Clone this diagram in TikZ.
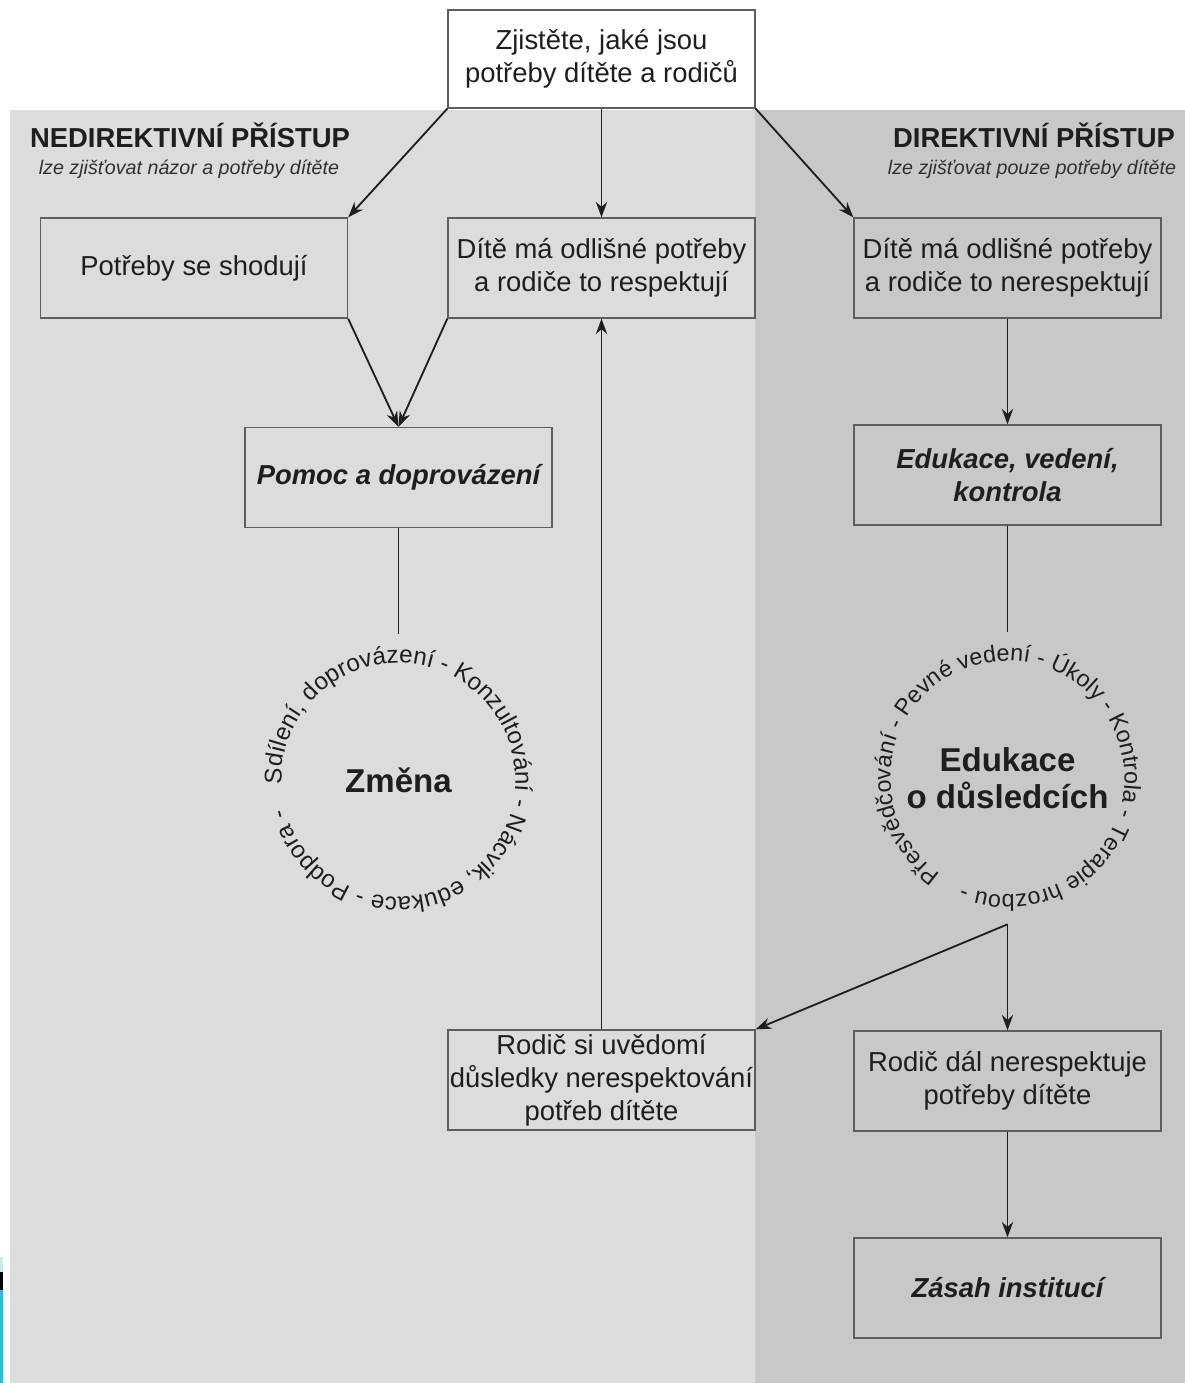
\documentclass[tikz,border=0pt]{standalone}
\usepackage{fontspec}
\setmainfont{Liberation Sans}
\usetikzlibrary{arrows.meta,decorations.text}
\definecolor{panelA}{HTML}{DCDCDC}
\definecolor{panelB}{HTML}{C8C8C8}
\definecolor{rim}{HTML}{5E5E5E}
\definecolor{ink}{HTML}{1E1E1E}
\definecolor{strip}{HTML}{3CB4DC}
\definecolor{stripl}{HTML}{CDE6F0}

\begin{document}
\begin{tikzpicture}[x=0.025cm, y=0.025cm,
    box/.style={rectangle, draw=rim, line width=0.9pt, minimum width=7.675cm, minimum height=2.5cm, inner sep=0pt, align=center, text=ink, font=\fontsize{19.5}{23.5}\selectfont},
    title/.style={anchor=base, inner sep=0pt, text=ink, font=\fontsize{19.5}{23.5}\selectfont\bfseries},
    sub/.style={anchor=base, inner sep=0pt, text=ink!92, font=\fontsize{14}{16}\selectfont\itshape},
    ring/.style={circle, minimum size=7.3cm, inner sep=0pt, align=center, text=ink, font=\fontsize{23.5}{26}\selectfont\bfseries},
    arr/.style={draw=ink, line width=1.3pt, -{Stealth[length=11pt, width=8pt]}},
    link/.style={draw=ink, line width=1.3pt}]
            \useasboundingbox (0,0) rectangle (1185,-1383);
            % panels
            \fill[panelA] (10,-110) rectangle (755,-1383);
            \fill[panelB] (755,-110) rectangle (1185,-1383);
            \fill[stripl] (0,-1257) rectangle (3,-1272);
            \fill[black] (0,-1272) rectangle (3,-1290);
            \fill[strip] (0,-1290) rectangle (3,-1383);

            \node[title] (nedir) at (190,-147) {NEDIREKTIVNÍ PŘÍSTUP};
            \node[sub] (nedirsub) at (189,-174) {lze zjišťovat názor a potřeby dítěte};
            \node[title] (dir) at (1034,-147) {DIREKTIVNÍ PŘÍSTUP};
            \node[sub] (dirsub) at (1032,-174) {lze zjišťovat pouze potřeby dítěte};

            \node[box, fill=white, minimum height=2.45cm] (zjistit) at (601.5,-59) {Zjistěte, jaké jsou\\potřeby dítěte a rodičů};
            \node[box] (shoda) at (194,-268) {Potřeby se shodují};
            \node[box] (respekt) at (601.5,-268) {Dítě má odlišné potřeby\\a rodiče to respektují};
            \node[box] (nerespekt) at (1007.5,-268) {Dítě má odlišné potřeby\\a rodiče to nerespektují};
            \node[box, font=\fontsize{19.5}{23.5}\selectfont\bfseries\itshape] (pomoc) at (398.5,-477.5) {Pomoc a doprovázení};
            \node[box, font=\fontsize{19.5}{23.5}\selectfont\bfseries\itshape] (vedeni) at (1007.5,-475) {Edukace, vedení,\\kontrola};
            \node[ring] (zmena) at (398.5,-780) {Změna};
            \node[ring] (dusledky) at (1007.5,-778) {Edukace\\o důsledcích};
            \node[box] (uvedomi) at (601.5,-1080) {Rodič si uvědomí\\důsledky nerespektování\\potřeb dítěte};
            \node[box] (dal) at (1007.5,-1081) {Rodič dál nerespektuje\\potřeby dítěte};
            \node[box, font=\fontsize{19.5}{23.5}\selectfont\bfseries\itshape] (zasah) at (1007.5,-1288) {Zásah institucí};

            % texts round the circles
            \path[decorate, decoration={text along path,
                text={|\fontsize{17.2}{17.2}\selectfont\color{ink}|Sdílení, doprovázení - Konzultování - Nácvik, edukace - Podpora -}}]
                (zmena.center) ++(182:117) arc[start angle=182, end angle=-178, radius=117];
            \path[decorate, decoration={text along path,
                text={|\fontsize{16.6}{16.6}\selectfont\color{ink}|Přesvědčování - Pevné vedení - Úkoly - Kontrola - Terapie hrozbou -}}]
                (dusledky.center) ++(235:117) arc[start angle=235, end angle=-125, radius=117];

            \draw[arr] (zjistit.south west) -- (shoda.north east);
            \draw[arr] (zjistit.south) -- (respekt.north);
            \draw[arr] (zjistit.south east) -- (nerespekt.north west);
            \draw[arr] (shoda.south east) -- (pomoc.north);
            \draw[arr] (respekt.south west) -- (pomoc.north);
            \draw[arr] (uvedomi.north) -- (respekt.south);
            \draw[arr] (nerespekt.south) -- (vedeni.north);
            \draw[link] (pomoc.south) -- (zmena.north);
            \draw[link] (vedeni.south) -- (dusledky.north);
            \draw[arr] (dusledky.south) -- (dal.north);
            \draw[arr] (dusledky.south) -- (uvedomi.north east);
            \draw[arr] (dal.south) -- (zasah.north);
        \end{tikzpicture}
\end{document}
